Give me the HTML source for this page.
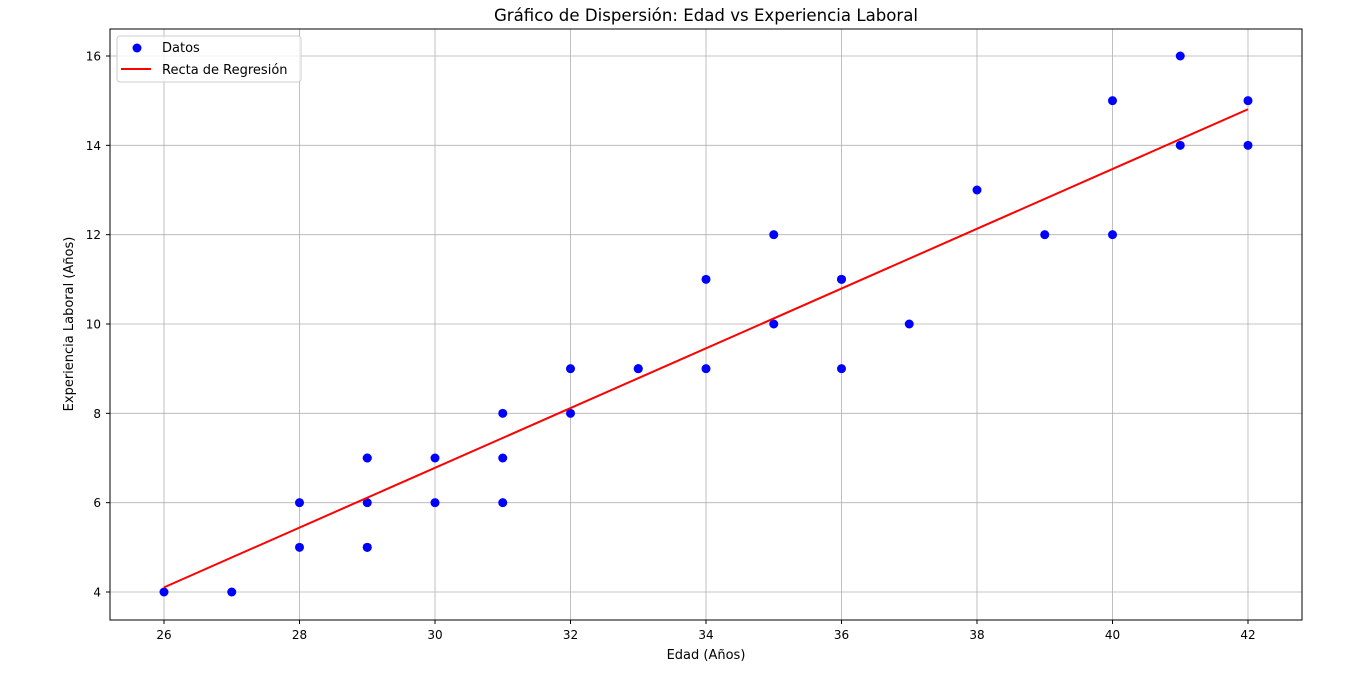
<!DOCTYPE html>
<html><head><meta charset="utf-8"><style>
html,body{margin:0;padding:0;background:#fff;}
svg{display:block;font-family:"DejaVu Sans","Liberation Sans",sans-serif;}
</style></head><body>
<svg id="chart" width="1360" height="673">
<rect x="0" y="0" width="1360" height="673" fill="#fff"/>
<text x="706" y="21" font-size="16.6" text-anchor="middle">Gráfico de Dispersión: Edad vs Experiencia Laboral</text>
<g id="grid"></g><g id="axes"></g><g id="marks"></g>
<rect x="110" y="29" width="1192" height="591" fill="none" stroke="#000" stroke-width="1"/>
<text x="706" y="659" font-size="13" text-anchor="middle">Edad (Años)</text>
<text x="73" y="324" font-size="13" text-anchor="middle" transform="rotate(-90 73 324)">Experiencia Laboral (Años)</text>
<g>
<rect x="117" y="36" width="184" height="46" rx="3" fill="#fff" fill-opacity="0.8" stroke="#ccc"/>
<g><circle cx="137" cy="48" r="4.5" fill="#0000ff"/><text x="162" y="52" font-size="13">Datos</text></g>
<g><line x1="121" y1="69" x2="151" y2="69" stroke="#ff0000" stroke-width="2"/><text x="162" y="74" font-size="13">Recta de Regresión</text></g>
</g>
</svg>
<script>
const ages=[26,27,28,28,29,29,29,29,29,30,30,31,31,31,32,32,33,33,34,34,35,35,36,36,36,37,38,39,40,40,41,41,42,42];
const experience=[4,4,6,5,7,7,6,5,5,7,6,8,7,6,9,8,9,9,11,9,12,10,11,11,9,10,13,12,15,12,16,14,15,14];
const regressionCoef=[0.669,-13.29];
const xTicks=[26,28,30,32,34,36,38,40,42];
const yTicks=[4,6,8,10,12,14,16];
const NS="http://www.w3.org/2000/svg";
const X=v=>164+(v-26)*(1248-164)/16;
const Y=v=>592-(v-4)*(592-56)/12;
function mk(tag,attrs,parent){const e=document.createElementNS(NS,tag);for(const k in attrs)e.setAttribute(k,attrs[k]);parent.appendChild(e);return e;}
const grid=document.getElementById('grid'),axes=document.getElementById('axes'),marks=document.getElementById('marks');
xTicks.forEach(t=>{
 const g=mk('line',{x1:X(t),x2:X(t),y1:29,y2:620,stroke:'#b0b0b0','stroke-width':0.8},grid);
 
 
 mk('line',{x1:X(t),x2:X(t),y1:620,y2:624,stroke:'#000'},axes);
 const tx=mk('text',{x:X(t),y:639,'font-size':12,'text-anchor':'middle'},axes);tx.textContent=t;
 
 
});
yTicks.forEach(t=>{
 const g=mk('line',{x1:110,x2:1302,y1:Y(t),y2:Y(t),stroke:'#b0b0b0','stroke-width':0.8},grid);
 
 
 mk('line',{x1:106,x2:110,y1:Y(t),y2:Y(t),stroke:'#000'},axes);
 const tx=mk('text',{x:101,y:Y(t)+4.5,'font-size':12,'text-anchor':'end'},axes);tx.textContent=t;
 
 
});
ages.forEach((a,i)=>{
 const c=mk('circle',{cx:X(a),cy:Y(experience[i]),r:4.5,fill:'#0000ff'},marks);
 
 
});
const slope=regressionCoef[0],icpt=regressionCoef[1];
const xmin=Math.min(...ages),xmax=Math.max(...ages);
const l=mk('line',{x1:X(xmin),y1:Y(icpt+slope*xmin),x2:X(xmax),y2:Y(icpt+slope*xmax),stroke:'#ff0000','stroke-width':2},marks);


</script>
</body></html>
